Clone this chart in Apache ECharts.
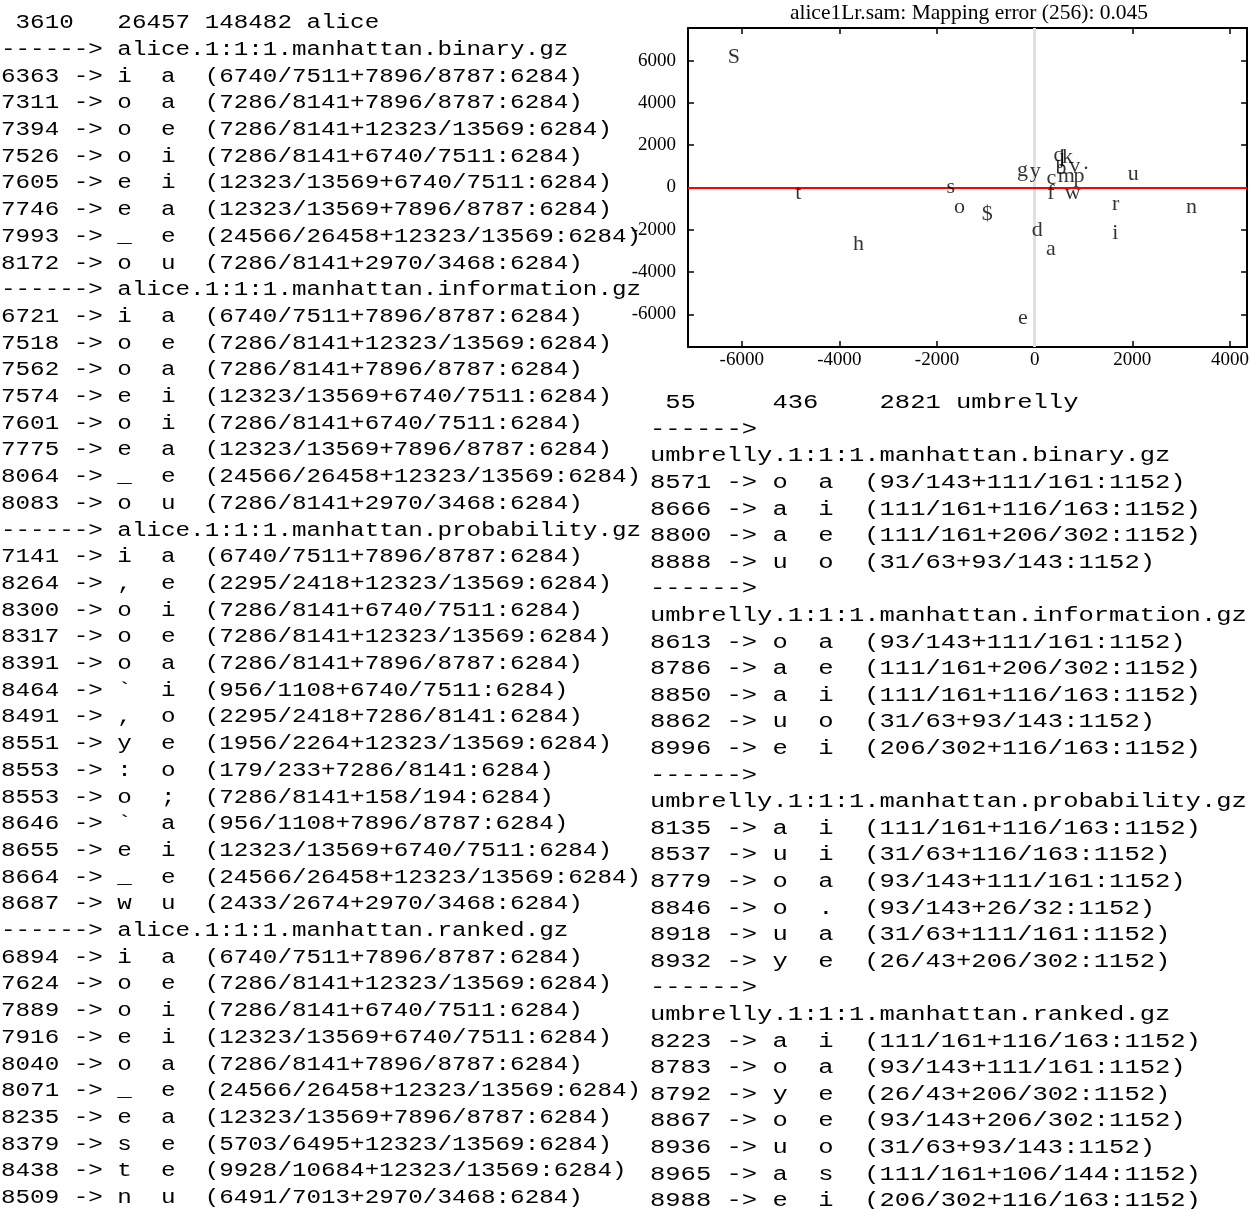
<!DOCTYPE html>
<html><head><meta charset="utf-8">
<script src="https://cdn.jsdelivr.net/npm/echarts@6/dist/echarts.min.js"></script>
<style>html,body{margin:0;padding:0;background:#fff}#c{width:1252px;height:1209px}</style>
</head><body><div id="c"></div>
<script>
const titleText = 'alice1Lr.sam: Mapping error (256): 0.045';
const leftLines = [
' 3610   26457 148482 alice',
'------> alice.1:1:1.manhattan.binary.gz',
'6363 -> i  a  (6740/7511+7896/8787:6284)',
'7311 -> o  a  (7286/8141+7896/8787:6284)',
'7394 -> o  e  (7286/8141+12323/13569:6284)',
'7526 -> o  i  (7286/8141+6740/7511:6284)',
'7605 -> e  i  (12323/13569+6740/7511:6284)',
'7746 -> e  a  (12323/13569+7896/8787:6284)',
'7993 -> _  e  (24566/26458+12323/13569:6284)',
'8172 -> o  u  (7286/8141+2970/3468:6284)',
'------> alice.1:1:1.manhattan.information.gz',
'6721 -> i  a  (6740/7511+7896/8787:6284)',
'7518 -> o  e  (7286/8141+12323/13569:6284)',
'7562 -> o  a  (7286/8141+7896/8787:6284)',
'7574 -> e  i  (12323/13569+6740/7511:6284)',
'7601 -> o  i  (7286/8141+6740/7511:6284)',
'7775 -> e  a  (12323/13569+7896/8787:6284)',
'8064 -> _  e  (24566/26458+12323/13569:6284)',
'8083 -> o  u  (7286/8141+2970/3468:6284)',
'------> alice.1:1:1.manhattan.probability.gz',
'7141 -> i  a  (6740/7511+7896/8787:6284)',
'8264 -> ,  e  (2295/2418+12323/13569:6284)',
'8300 -> o  i  (7286/8141+6740/7511:6284)',
'8317 -> o  e  (7286/8141+12323/13569:6284)',
'8391 -> o  a  (7286/8141+7896/8787:6284)',
'8464 -> `  i  (956/1108+6740/7511:6284)',
'8491 -> ,  o  (2295/2418+7286/8141:6284)',
'8551 -> y  e  (1956/2264+12323/13569:6284)',
'8553 -> :  o  (179/233+7286/8141:6284)',
'8553 -> o  ;  (7286/8141+158/194:6284)',
'8646 -> `  a  (956/1108+7896/8787:6284)',
'8655 -> e  i  (12323/13569+6740/7511:6284)',
'8664 -> _  e  (24566/26458+12323/13569:6284)',
'8687 -> w  u  (2433/2674+2970/3468:6284)',
'------> alice.1:1:1.manhattan.ranked.gz',
'6894 -> i  a  (6740/7511+7896/8787:6284)',
'7624 -> o  e  (7286/8141+12323/13569:6284)',
'7889 -> o  i  (7286/8141+6740/7511:6284)',
'7916 -> e  i  (12323/13569+6740/7511:6284)',
'8040 -> o  a  (7286/8141+7896/8787:6284)',
'8071 -> _  e  (24566/26458+12323/13569:6284)',
'8235 -> e  a  (12323/13569+7896/8787:6284)',
'8379 -> s  e  (5703/6495+12323/13569:6284)',
'8438 -> t  e  (9928/10684+12323/13569:6284)',
'8509 -> n  u  (6491/7013+2970/3468:6284)'
];
const rightLines = [
' 55     436    2821 umbrelly',
'------>',
'umbrelly.1:1:1.manhattan.binary.gz',
'8571 -> o  a  (93/143+111/161:1152)',
'8666 -> a  i  (111/161+116/163:1152)',
'8800 -> a  e  (111/161+206/302:1152)',
'8888 -> u  o  (31/63+93/143:1152)',
'------>',
'umbrelly.1:1:1.manhattan.information.gz',
'8613 -> o  a  (93/143+111/161:1152)',
'8786 -> a  e  (111/161+206/302:1152)',
'8850 -> a  i  (111/161+116/163:1152)',
'8862 -> u  o  (31/63+93/143:1152)',
'8996 -> e  i  (206/302+116/163:1152)',
'------>',
'umbrelly.1:1:1.manhattan.probability.gz',
'8135 -> a  i  (111/161+116/163:1152)',
'8537 -> u  i  (31/63+116/163:1152)',
'8779 -> o  a  (93/143+111/161:1152)',
'8846 -> o  .  (93/143+26/32:1152)',
'8918 -> u  a  (31/63+111/161:1152)',
'8932 -> y  e  (26/43+206/302:1152)',
'------>',
'umbrelly.1:1:1.manhattan.ranked.gz',
'8223 -> a  i  (111/161+116/163:1152)',
'8783 -> o  a  (93/143+111/161:1152)',
'8792 -> y  e  (26/43+206/302:1152)',
'8867 -> o  e  (93/143+206/302:1152)',
'8936 -> u  o  (31/63+93/143:1152)',
'8965 -> a  s  (111/161+106/144:1152)',
'8988 -> e  i  (206/302+116/163:1152)'
];
const letters = ['S','t','s','o','$','h','d','a','e','g','y','c','m','p','f','w','u','r','i','n','j','q','k','b','v','.'];
const letterX = [-6160,-4840,-1720,-1540,-970,-3610,50,330,-240,-250,10,340,650,910,330,780,2020,1660,1650,3210,560,500,670,540,820,1050];
const letterY = [6170,-290,10,-920,-1280,-2700,-2040,-2910,-6210,800,770,440,520,520,-250,-260,610,-810,-2180,-920,1430,1530,1450,920,1030,1170];
const xTicks = [-6000,-4000,-2000,0,2000,4000];
const yTicks = [-6000,-4000,-2000,0,2000,4000,6000];

const MONO = '"Liberation Mono","Courier New",monospace';
const SERIF = '"Liberation Serif","Times New Roman",serif';
const chart = echarts.init(document.getElementById('c'), null, {renderer:'canvas'});

const graphics = [];
function addLines(lines, x0, y0, dy, sx){
  lines.forEach((t,i)=>graphics.push({
    type:'text', x:x0, y:y0+i*dy, scaleX:sx, silent:true, z:0,
    style:{text:t, font:'20px '+MONO, fill:'#000', textAlign:'left', textVerticalAlign:'middle', align:'left', verticalAlign:'middle'}
  }));
}
addLines(leftLines, 1, 23, 26.7, 1.212);
addLines(rightLines, 650, 403, 26.6, 1.275);
graphics.push({type:'text', x:969, y:13, silent:true,
  style:{text:titleText, font:'21.5px '+SERIF, fill:'#000', textAlign:'center', textVerticalAlign:'middle', align:'center', verticalAlign:'middle'}});

function xAx(pos, showLabel){
  return {type:'value', position:pos, min:-7100, max:4350,
    axisLine:{show:true, onZero:false, lineStyle:{color:'#000', width:2}},
    axisTick:{show:true, inside:true, length:6, customValues:xTicks, lineStyle:{color:'#000', width:1.5}},
    axisLabel:{show:showLabel, customValues:xTicks, formatter:v=>String(v), color:'#000', fontFamily:SERIF, fontSize:19, margin:4},
    splitLine:{show:false}};
}
function yAx(pos, showLabel){
  return {type:'value', position:pos, min:-7550, max:7550,
    axisLine:{show:true, onZero:false, lineStyle:{color:'#000', width:2}},
    axisTick:{show:true, inside:true, length:6, customValues:yTicks, lineStyle:{color:'#000', width:1.5}},
    axisLabel:{show:showLabel, customValues:yTicks, formatter:v=>String(v), color:'#000', fontFamily:SERIF, fontSize:19, margin:12},
    splitLine:{show:false}};
}

chart.setOption({
  animation:false,
  backgroundColor:'#fff',
  grid:{left:688, top:28, width:562, height:319, containLabel:false},
  xAxis:[xAx('bottom', true), xAx('top', false)],
  yAxis:[yAx('left', true), yAx('right', false)],
  graphic:graphics,
  series:[
    {type:'line', data:[], z:1, silent:true,
     markLine:{silent:true, symbol:['none','none'], label:{show:false}, animation:false,
       data:[{xAxis:0, lineStyle:{color:'#e0e0e0', width:3, type:'solid'}},
             {yAxis:0, lineStyle:{color:'#ff0000', width:1.8, type:'solid'}}]}},
    {type:'scatter', z:5, silent:true, symbolSize:1, itemStyle:{color:'rgba(0,0,0,0)'},
     data:letters.map((l,i)=>[letterX[i], letterY[i], l]),
     label:{show:true, position:'inside', formatter:p=>p.value[2], color:'#000', fontFamily:SERIF, fontSize:22}}
  ]
});
</script></body></html>
